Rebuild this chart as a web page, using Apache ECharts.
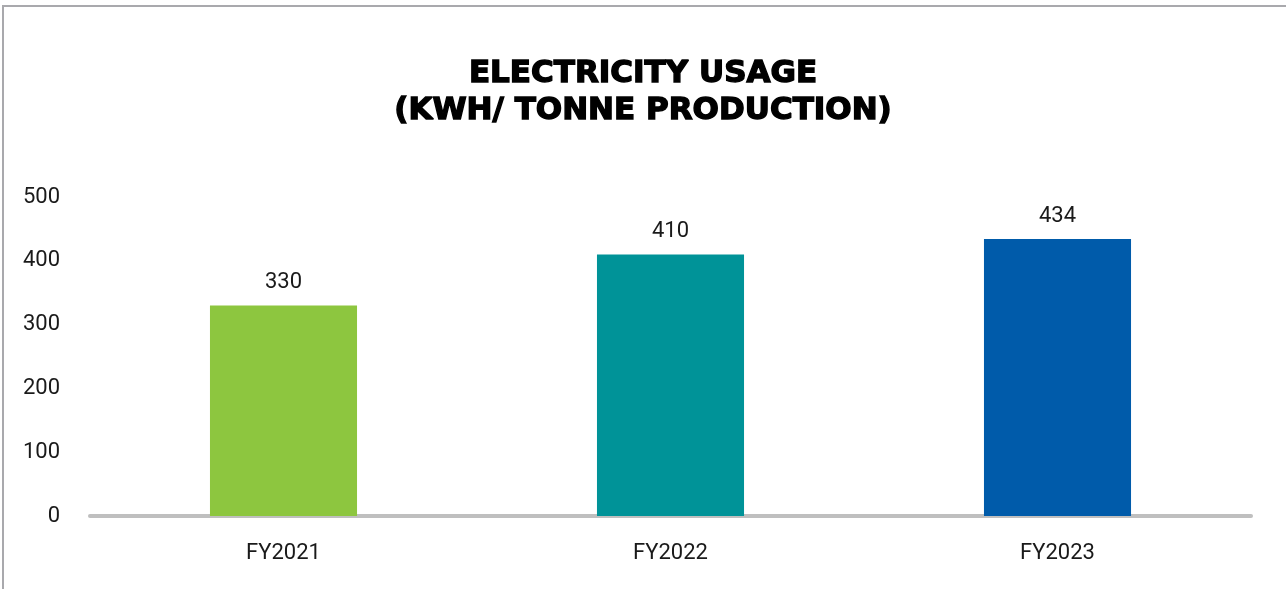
<!DOCTYPE html>
<html>
<head>
<meta charset="utf-8">
<script src="https://cdn.jsdelivr.net/npm/echarts@6/dist/echarts.min.js"></script>
<style>
html,body{margin:0;padding:0;background:#fff;}
#wrap{position:relative;width:1286px;height:589px;overflow:hidden;}
#chart{position:absolute;left:0;top:0;width:1286px;height:589px;}
#bt{position:absolute;left:3px;top:5px;width:1283px;height:2px;background:#a9a9ad;}
#bl{position:absolute;left:2px;top:5px;width:2px;height:584px;background:#a9a9ad;}
</style>
</head>
<body>
<div id="wrap"><div id="chart"></div><div id="bt"></div><div id="bl"></div></div>
<script>
const categories = ['FY2021', 'FY2022', 'FY2023'];
const values = [330, 410, 434];
const barColors = ['#8DC63F', '#009398', '#005BAA'];
const yTicks = [0, 100, 200, 300, 400, 500];
const titleText = 'ELECTRICITY USAGE\n(KWH/ TONNE PRODUCTION)';

const chart = echarts.init(document.getElementById('chart'), null, {renderer: 'canvas'});
chart.setOption({
  animation: false,
  backgroundColor: '#fff',
  title: {
    text: titleText,
    left: 'center',
    top: 50,
    textStyle: {
      fontFamily: 'DejaVu Sans',
      fontWeight: 'bold',
      fontSize: 31,
      lineHeight: 37,
      color: '#000',
      textBorderColor: '#000',
      textBorderWidth: 1.4
    }
  },
  grid: {left: 90, right: 35, top: 197, bottom: 73, containLabel: false},
  xAxis: {
    type: 'category',
    data: categories,
    offset: 2,
    axisLine: {lineStyle: {color: '#BFBFBF', width: 4}},
    axisTick: {show: false},
    axisLabel: {fontFamily: 'Roboto', fontSize: 22, color: '#1a1a1a', margin: 24}
  },
  yAxis: {
    type: 'value',
    min: yTicks[0],
    max: yTicks[yTicks.length - 1],
    interval: 100,
    axisLine: {show: false},
    axisTick: {show: false},
    splitLine: {show: false},
    axisLabel: {fontFamily: 'Roboto', fontSize: 22, color: '#1a1a1a', margin: 30, padding: [4, 0, 0, 0]}
  },
  series: [{
    type: 'bar',
    data: values.map((v, i) => ({value: v, itemStyle: {color: barColors[i]}})),
    barWidth: '38%',
    label: {
      show: true,
      position: 'top',
      distance: 12,
      fontFamily: 'Roboto',
      fontSize: 22,
      color: '#1a1a1a'
    }
  }]
});
</script>
</body>
</html>
